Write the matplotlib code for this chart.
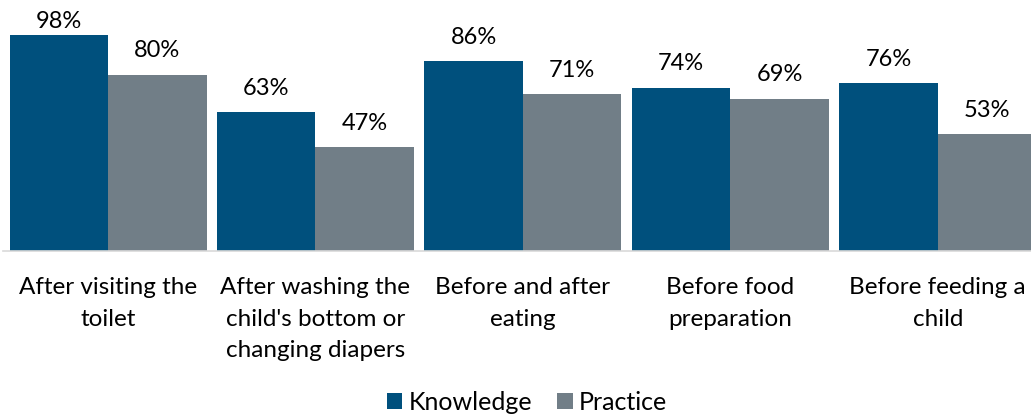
import matplotlib
matplotlib.use("Agg")
import matplotlib.pyplot as plt
from matplotlib.patches import Patch
import numpy as np

categories = [
    "After visiting the\ntoilet",
    "After washing the\nchild's bottom or\nchanging diapers",
    "Before and after\neating",
    "Before food\npreparation",
    "Before feeding a\nchild",
]
knowledge = [98, 63, 86, 74, 76]
practice = [80, 47, 71, 69, 53]

c_know = "#00507D"
c_prac = "#717E87"

plt.rcParams["font.family"] = ["Lato", "DejaVu Sans"]

W, H = 1031, 415
fig = plt.figure(figsize=(W / 100, H / 100), dpi=100)

# axes: bottom edge on the baseline, top at figure top
base_px = 250.7
px_per_unit = 2.201
ax = fig.add_axes([3 / W, (H - base_px) / H, (W - 3) / W, base_px / H])

pitch_px = 207.45
bw = 98.5 / pitch_px
x = np.arange(len(categories))
left_px = 108 - 3
ax.set_xlim(-left_px / pitch_px, (W - 3 - left_px) / pitch_px)
ymax = base_px / px_per_unit
ax.set_ylim(0, ymax)

b1 = ax.bar(x - bw / 2, knowledge, bw, color=c_know, edgecolor="none")
b2 = ax.bar(x + bw / 2, practice, bw, color=c_prac, edgecolor="none")

# value labels sit above the bars; a label that would run past the top
# of the plot area is pulled down so that it stays inside
gap_px = 13.5
label_h_px = 22
for bars, vals in ((b1, knowledge), (b2, practice)):
    for r, v in zip(bars, vals):
        room = (ymax - v) * px_per_unit - label_h_px - 10
        off = max(min(gap_px, room), 3)
        ax.annotate(f"{v}%", (r.get_x() + r.get_width() / 2, v),
                    xytext=(0, off * 0.72), textcoords="offset points",
                    ha="center", va="bottom", fontsize=17, color="black")

for s in ("top", "right", "left"):
    ax.spines[s].set_visible(False)
ax.spines["bottom"].set_color("#D9D9D9")
ax.spines["bottom"].set_linewidth(1.2)
ax.set_yticks([])
ax.set_xticks(x)
ax.set_xticklabels(categories, fontsize=17.5, linespacing=1.62)
ax.tick_params(axis="x", length=0, pad=19)

handles = [Patch(facecolor=c_know, label="Knowledge"),
           Patch(facecolor=c_prac, label="Practice")]
fig.legend(handles=handles, loc="center", bbox_to_anchor=(527 / W, 1 - 402 / H),
           ncol=2, frameon=False, fontsize=18, handlelength=0.62, handleheight=0.62,
           handletextpad=0.25, columnspacing=1.0)

fig.savefig("out.png", dpi=100)
